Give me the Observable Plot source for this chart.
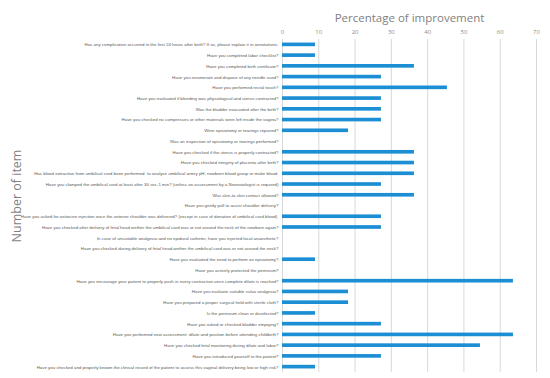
<!DOCTYPE html>
<html><head><meta charset="utf-8">
<script src="https://cdn.jsdelivr.net/npm/d3@7"></script>
<script src="https://cdn.jsdelivr.net/npm/@observablehq/plot@0.6"></script>
<style>body{margin:0;background:#fff;} svg{display:block;}</style>
</head><body><div id="chart"></div>
<script>
const items = [
"Has any complication occurred in the first 24 hours after birth? If so, please explain it in annotations.",
"Have you completed labor checklist?",
"Have you completed birth certificate?",
"Have you enumerate and dispose of any needle used?",
"Have you performed rectal touch?",
"Have you evaluated if bleeding was physiological and uterus contracted?",
"Was the bladder evacuated after the birth?",
"Have you checked no compresses or other materials were left inside the vagina?",
"Were episiotomy or tearings repaired?",
"Was an inspection of episiotomy or tearings performed?",
"Have you checked if the uterus is properly contracted?",
"Have you checked integrity of placenta after birth?",
"Has blood extraction from umbilical cord been performed  to analyse umbilical artery pH, newborn blood group or make blood.",
"Have you clamped the umbilical cord at least after 30 sec-1 min? (unless an assessment by a Neonatologist is required)",
"Was skin-to-skin contact allowed?",
"Have you gently pull to assist shoulder delivery?",
"Have you asked for oxitocine injection once the anterior shoulder was delivered? (except in case of donation of umbilical cord blood).",
"Have you checked after delivery of fetal head wether the umbilical cord was or not around the neck of the newborn again?",
"In case of unsuitable analgesia and no epidural catheter, have you injected local anaesthetic?",
"Have you checked during delivery of fetal head wether the umbilical cord was or not around the neck?",
"Have you evaluated the need to perform an episiotomy?",
"Have you actively protected the perineum?",
"Have you encourage your patient to properly push in every contraction once complete dilate is reached?",
"Have you evaluate suitable vulva analgesia?",
"Have you prepared a proper surgical field with sterile cloth?",
"Is the perineum clean or disinfected?",
"Have you asked or checked bladder emptying?",
"Have you performed new assessment: dilate and position before attending childbirth?",
"Have you checked fetal monitoring during dilate and labor?",
"Have you introduced yourself to the patient?",
"Have you checked and properly known the clinical record of the patient to assess this vaginal delivery being low or high risk?"
];
const improvement = [9.09, 9.09, 36.36, 27.27, 45.45, 27.27, 27.27, 27.27, 18.18, 0,
  36.36, 36.36, 36.36, 27.27, 36.36, 0, 27.27, 27.27, 0, 0,
  9.09, 0, 63.64, 18.18, 18.18, 9.09, 27.27, 63.64, 54.55, 27.27, 9.09];
const xTicks = [0, 10, 20, 30, 40, 50, 60, 70];
const xTitle = "Percentage of improvement";
const yTitle = "Number of item";

const data = items.map((q, i) => ({q, v: improvement[i]}));

const chart = Plot.plot({
  width: 550,
  height: 378,
  marginTop: 39,
  marginBottom: 6,
  marginLeft: 282,
  marginRight: 14,
  style: {fontFamily: "'Open Sans', sans-serif", background: "#fff"},
  x: {domain: [0, 70], ticks: xTicks},
  y: {domain: items, paddingInner: 0.66, paddingOuter: 0.33, round: false},
  marks: [
    Plot.gridX(xTicks, {stroke: "#d9d9d9", strokeOpacity: 1}),
    Plot.axisX(xTicks, {anchor: "top", tickSize: 0, tickPadding: 6, fontSize: 6, fill: "#8c8c8c", label: null}),
    Plot.axisY({tickSize: 0, tickPadding: 4, fontSize: 4.4, fontFamily: "'Liberation Sans Narrow', 'Arial Narrow', sans-serif", fill: "#595959", label: null}),
    Plot.barX(data, {x: "v", y: "q", fill: "#1b8ed4"}),
    Plot.text([xTitle], {frameAnchor: "top", dy: -26, fontSize: 11.5, fill: "#7f7f7f"}),
    Plot.text([yTitle], {frameAnchor: "left", textAnchor: "middle", dx: -266, dy: -10, rotate: -90, fontSize: 12.5, fill: "#7f7f7f"})
  ]
});
document.getElementById("chart").append(chart);
</script>
</body></html>
